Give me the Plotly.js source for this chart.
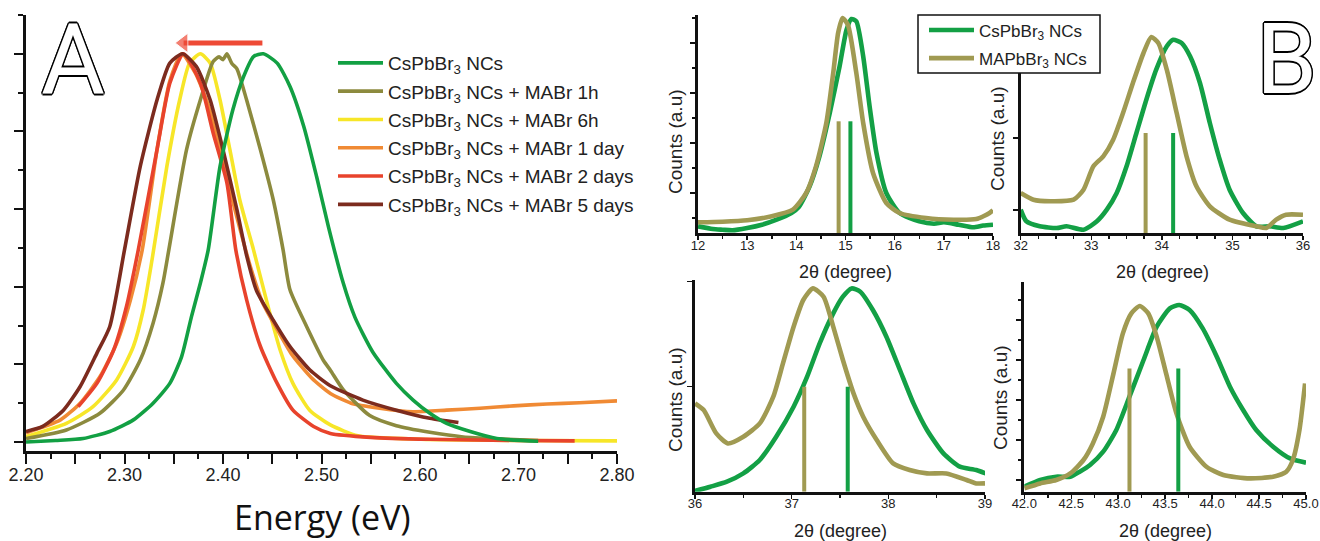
<!DOCTYPE html>
<html><head><meta charset="utf-8">
<script src="https://cdn.plot.ly/plotly-3.0.1.min.js"></script>
<style>html,body{margin:0;padding:0;background:#fff}#chart{width:1320px;height:541px}</style>
</head><body><div id="chart"></div>
<script>
// ---------- Panel A : PL spectra (normalised intensity vs energy) ----------
const aNames = ['CsPbBr<sub>3</sub> NCs','CsPbBr<sub>3</sub> NCs + MABr 1h','CsPbBr<sub>3</sub> NCs + MABr 6h',
  'CsPbBr<sub>3</sub> NCs + MABr 1 day','CsPbBr<sub>3</sub> NCs + MABr 2 days','CsPbBr<sub>3</sub> NCs + MABr 5 days'];
const aColors = ['#12a043','#8c8a3e','#f7e628','#f08a34','#e8432c','#7c2b1e'];

const greenE = [2.200,2.230,2.258,2.285,2.309,2.329,2.346,2.358,2.368,2.377,2.385,2.397,2.410,2.421,2.431,2.441,2.455,2.468,2.482,2.495,2.507,2.522,2.534,2.552,2.576,2.593,2.610,2.627,2.651,2.678,2.720];
const greenI = [0.000,0.004,0.009,0.027,0.057,0.100,0.151,0.220,0.323,0.409,0.495,0.710,0.856,0.942,0.993,1.000,0.976,0.916,0.813,0.684,0.555,0.410,0.321,0.232,0.151,0.108,0.074,0.048,0.027,0.009,0.002];

const oliveE = [2.200,2.241,2.275,2.299,2.316,2.329,2.339,2.345,2.363,2.377,2.390,2.396,2.400,2.404,2.409,2.414,2.424,2.438,2.451,2.461,2.468,2.485,2.502,2.509,2.522,2.549,2.576,2.610,2.644,2.678,2.720];
const oliveI = [0.009,0.031,0.074,0.134,0.211,0.306,0.409,0.495,0.753,0.881,0.980,0.992,0.985,1.000,0.975,0.962,0.881,0.753,0.624,0.495,0.392,0.297,0.210,0.185,0.135,0.068,0.042,0.025,0.013,0.008,0.004];

const yellowE = [2.200,2.241,2.268,2.292,2.309,2.319,2.328,2.343,2.356,2.366,2.377,2.387,2.397,2.407,2.417,2.431,2.444,2.458,2.471,2.488,2.509,2.537,2.601,2.700,2.800];
const yellowI = [0.014,0.048,0.091,0.160,0.246,0.340,0.470,0.710,0.881,0.976,1.000,0.976,0.881,0.753,0.624,0.495,0.366,0.237,0.151,0.082,0.044,0.016,0.007,0.004,0.003];

const orangeE = [2.200,2.235,2.255,2.275,2.292,2.306,2.318,2.333,2.346,2.358,2.372,2.386,2.400,2.414,2.428,2.440,2.455,2.470,2.490,2.509,2.530,2.559,2.593,2.627,2.661,2.695,2.729,2.762,2.800];
const orangeI = [0.024,0.057,0.100,0.168,0.254,0.366,0.495,0.753,0.930,1.000,0.950,0.860,0.720,0.580,0.450,0.360,0.290,0.225,0.165,0.125,0.100,0.087,0.078,0.082,0.087,0.093,0.098,0.101,0.106];

const redE = [2.253,2.272,2.289,2.302,2.314,2.333,2.346,2.360,2.377,2.390,2.404,2.413,2.424,2.438,2.455,2.471,2.492,2.509,2.550,2.610,2.700,2.757];
const redI = [0.091,0.151,0.237,0.349,0.495,0.753,0.924,1.000,0.925,0.796,0.667,0.495,0.366,0.246,0.151,0.082,0.040,0.022,0.012,0.007,0.004,0.003];

const brownE = [2.200,2.217,2.238,2.255,2.272,2.285,2.300,2.316,2.333,2.346,2.359,2.373,2.387,2.400,2.414,2.424,2.434,2.451,2.468,2.488,2.509,2.542,2.576,2.610,2.639];
const brownI = [0.027,0.040,0.082,0.143,0.229,0.297,0.495,0.710,0.881,0.976,1.000,0.967,0.881,0.753,0.600,0.480,0.390,0.314,0.246,0.186,0.145,0.108,0.082,0.061,0.050];

// red-shift arrow (energy from -> to, at normalised level)
const arrowE = [2.440, 2.360];
const arrowLevel = [1.028, 1.028];

const aMajorY = [0,0.2,0.4,0.6,0.8,1.0];
const aMinorY = [0.1,0.3,0.5,0.7,0.9,1.1];

// ---------- Panel B : XRD (counts a.u. vs 2theta) ----------
const bNames = ['CsPbBr<sub>3</sub> NCs','MAPbBr<sub>3</sub> NCs'];
const bColors = ['#13a045','#a09a52'];

// 12-18 deg
const tlCsX = [12.0,12.3,12.5,12.7,13.0,13.3,13.6,13.9,14.05,14.27,14.47,14.68,14.88,15.02,15.12,15.22,15.36,15.49,15.63,15.83,16.1,16.5,16.8,17.0,17.3,17.6,17.8,18.0];
const tlCsY = [6.7,4.0,3.3,2.7,5.0,8.3,13.3,20.0,26.0,46.7,76.7,120.0,166.7,203.0,214.0,211.7,176.7,126.7,80.0,40.0,20.0,11.7,9.3,10.7,8.3,5.7,7.5,8.3];
const tlMaX = [12.0,12.5,13.0,13.5,13.93,14.2,14.4,14.61,14.75,14.85,14.94,15.05,15.22,15.36,15.56,15.83,16.1,16.64,17.2,17.66,17.93,18.0];
const tlMaY = [10.7,11.3,12.7,16.7,23.3,40.0,66.7,110.0,160.0,200.0,215.0,208.0,160.0,110.0,60.0,30.0,20.0,15.0,13.3,14.0,20.0,22.7];
// 32-36 deg
const trCsX = [32.0,32.08,32.27,32.51,32.65,32.89,33.08,33.22,33.36,33.5,33.64,33.78,33.92,34.07,34.16,34.28,34.4,34.54,34.68,34.82,34.96,35.15,35.34,35.53,35.72,36.0];
const trCsY = [23.3,11.7,6.7,5.0,6.7,3.3,11.7,23.3,40.0,66.7,100.0,133.3,163.3,186.7,193.3,190.0,176.7,150.0,110.0,73.3,43.3,20.0,6.7,6.7,5.0,11.7];
const trMaX = [32.0,32.18,32.42,32.75,32.89,33.03,33.17,33.31,33.45,33.59,33.74,33.85,33.95,34.07,34.21,34.35,34.49,34.68,34.96,35.34,35.48,35.62,35.76,36.0];
const trMaY = [40.0,33.3,31.7,33.3,43.3,66.7,76.7,93.3,120.0,150.0,180.0,196.0,190.0,163.3,120.0,76.7,46.7,26.7,13.3,6.7,5.0,13.3,18.3,18.3];
// 36-39 deg
const blCsX = [35.97,36.16,36.33,36.5,36.67,36.84,37.02,37.16,37.29,37.43,37.53,37.62,37.71,37.84,37.98,38.12,38.26,38.4,38.57,38.74,38.91,39.05];
const blCsY = [0.0,5.0,10.0,18.3,31.7,55.0,85.0,115.0,148.3,178.3,195.0,203.3,200.0,181.7,155.0,121.7,88.3,61.7,38.3,25.0,21.7,16.7];
const blMaX = [36.0,36.09,36.22,36.34,36.5,36.67,36.81,36.91,37.02,37.12,37.22,37.33,37.43,37.53,37.64,37.74,37.88,38.05,38.22,38.4,38.6,38.81,38.91,39.0];
const blMaY = [88.3,81.7,58.3,48.3,55.0,68.3,95.0,128.3,165.0,191.7,203.3,195.0,165.0,131.7,98.3,75.0,51.7,28.3,21.7,18.3,18.3,11.7,8.3,8.3];
// 42-45 deg
const brCsX = [42.0,42.17,42.34,42.49,42.59,42.7,42.84,42.98,43.12,43.27,43.41,43.55,43.65,43.76,43.9,44.05,44.19,44.33,44.47,44.65,44.83,45.0];
const brCsY = [5.0,11.7,15.0,15.0,20.0,26.7,40.0,61.7,95.0,131.7,165.0,183.3,186.7,181.7,163.3,135.0,105.0,81.7,61.7,45.0,33.3,29.0];
const brMaX = [42.0,42.17,42.34,42.49,42.63,42.73,42.84,42.95,43.05,43.14,43.23,43.32,43.41,43.51,43.62,43.76,43.94,44.12,44.4,44.65,44.79,44.86,44.93,44.99];
const brMaY = [3.3,8.3,11.7,18.3,31.7,48.3,75.0,118.3,158.3,178.3,185.7,178.3,155.0,118.3,78.3,45.0,25.0,16.7,13.3,15.0,20.0,31.7,61.7,108.3];

// reference peak positions (sticks) : [MAPbBr3, CsPbBr3]
const stickPosTL = [14.86,15.10], stickHTL = [111.7,111.7];
const stickPosTR = [33.77,34.16], stickHTR = [100.0,100.0];
const stickPosBL = [37.13,37.58], stickHBL = [105.0,105.0];
const stickPosBR = [43.12,43.64], stickHBR = [123.3,123.3];

// ---------- build ----------
const FONT = 'Liberation Sans, Arial, sans-serif';
const traces = [];
const aSeries = [[greenE,greenI],[oliveE,oliveI],[yellowE,yellowI],[orangeE,orangeI],[redE,redI],[brownE,brownI]];
const drawOrder = [2,3,1,4,5,0];
drawOrder.forEach(i => {
  traces.push({x:aSeries[i][0], y:aSeries[i][1], type:'scatter', mode:'lines', name:aNames[i],
    line:{color:aColors[i], width:3.6, shape:'spline', smoothing:0.6},
    xaxis:'x', yaxis:'y', legend:'legend', legendgroup:'a'+i, legendrank:i+1, hoverinfo:'skip'});
});
traces.push({x:arrowE, y:arrowLevel, type:'scatter', mode:'lines+markers', showlegend:false, hoverinfo:'skip',
  line:{color:'#ee4a36', width:5}, marker:{symbol:'triangle-left', size:[0,17], color:'#ee4a36'},
  xaxis:'x', yaxis:'y'});

const bPanels = [
  {xa:'x2', ya:'y2', cs:[tlCsX,tlCsY], ma:[tlMaX,tlMaY], sp:stickPosTL, sh:stickHTL},
  {xa:'x3', ya:'y3', cs:[trCsX,trCsY], ma:[trMaX,trMaY], sp:stickPosTR, sh:stickHTR},
  {xa:'x4', ya:'y4', cs:[blCsX,blCsY], ma:[blMaX,blMaY], sp:stickPosBL, sh:stickHBL},
  {xa:'x5', ya:'y5', cs:[brCsX,brCsY], ma:[brMaX,brMaY], sp:stickPosBR, sh:stickHBR}
];
bPanels.forEach((p,k) => {
  const first = k===0;
  traces.push({x:p.cs[0], y:p.cs[1], type:'scatter', mode:'lines', name:bNames[0],
    line:{color:bColors[0], width:4.6, shape:'spline', smoothing:0.6}, xaxis:p.xa, yaxis:p.ya,
    legend:'legend2', legendgroup:'b0', legendrank:1, showlegend:first, hoverinfo:'skip'});
  traces.push({x:p.ma[0], y:p.ma[1], type:'scatter', mode:'lines', name:bNames[1],
    line:{color:bColors[1], width:4.6, shape:'spline', smoothing:0.6}, xaxis:p.xa, yaxis:p.ya,
    legend:'legend2', legendgroup:'b1', legendrank:2, showlegend:first, hoverinfo:'skip'});
  [1,0].forEach(j => {
    traces.push({x:[p.sp[j],p.sp[j]], y:[0,p.sh[j]], type:'scatter', mode:'lines',
      line:{color:bColors[1-j], width:4}, xaxis:p.xa, yaxis:p.ya, showlegend:false, hoverinfo:'skip'});
  });
});

const W = 1320, H = 541;
const px = v => v/W, py = v => 1 - v/H;
function bx(d0,d1,range,anchor,dtick,dtickMinor,fmt){
  return {domain:[px(d0),px(d1)], range:range, anchor:anchor, showline:true, linecolor:'#111', linewidth:3,
    ticks:'outside', ticklen:4, tickwidth:1.5, tickcolor:'#111', showgrid:false, zeroline:false,
    tickmode:'linear', tick0:range[0], dtick:dtick, tickformat:fmt, ticklabelstandoff:-6,
    tickfont:{family:FONT, size:13, color:'#222'},
    minor:{ticks:'outside', ticklen:3, tickwidth:1.5, tickcolor:'#111', dtick:dtickMinor, showgrid:false}};
}
function by(d0,d1,range,anchor,major,minor){
  return {domain:[py(d1),py(d0)], range:range, anchor:anchor, showline:true, linecolor:'#111', linewidth:3,
    ticks:'outside', ticklen:5, tickwidth:1.5, tickcolor:'#111', showgrid:false, zeroline:false,
    showticklabels:false, tickvals:major,
    minor:{ticks:'outside', ticklen:3, tickwidth:1.5, tickcolor:'#111', tickvals:minor, showgrid:false}};
}
const ann = (x,y,text,size,extra) => Object.assign({x:px(x), y:py(y), xref:'paper', yref:'paper', text:text,
  showarrow:false, xanchor:'center', yanchor:'middle', font:{family:FONT, size:size, color:'#222'}}, extra||{});

const outline = 'black 1.6px 0 0, black -1.6px 0 0, black 0 1.6px 0, black 0 -1.6px 0, black 1.1px 1.1px 0, black -1.1px -1.1px 0, black 1.1px -1.1px 0, black -1.1px 1.1px 0';
const letterFont = {family:'Roboto, sans-serif', size:98, color:'#ffffff', shadow:outline};
const layout = {
  width:W, height:H, margin:{l:0,r:0,t:0,b:0}, paper_bgcolor:'#ffffff', plot_bgcolor:'rgba(0,0,0,0)',
  font:{family:FONT, color:'#222'}, showlegend:true,
  xaxis:{domain:[px(26),px(617)], range:[2.2,2.8], anchor:'y', showline:true, linecolor:'#111', linewidth:3,
    ticks:'outside', ticklen:10, tickwidth:2, tickcolor:'#111', showgrid:false, zeroline:false,
    tickmode:'linear', tick0:2.2, dtick:0.05, ticklabelstep:2, tickformat:'.2f', ticklabelstandoff:-5,
    tickfont:{family:FONT, size:18, color:'#222'},
    minor:{ticks:'outside', ticklen:5, tickwidth:2, tickcolor:'#111', dtick:0.025, showgrid:false}},
  yaxis:{domain:[py(451),py(15)], range:[-0.0232,1.1], anchor:'x', showline:true, linecolor:'#111', linewidth:3,
    ticks:'outside', ticklen:9, tickwidth:2, tickcolor:'#111', showgrid:false, zeroline:false, showticklabels:false,
    tickvals:aMajorY, minor:{ticks:'outside', ticklen:5, tickwidth:2, tickcolor:'#111', tickvals:aMinorY, showgrid:false}},
  xaxis2:bx(698,993,[12,18],'y2',1,0.5,'d'),
  yaxis2:by(15,233,[0,218],'x2',[40,90,140,190],[15,65,115,165,215]),
  xaxis3:bx(1020.7,1303,[32,36],'y3',1,0.25,'d'),
  yaxis3:by(15,233,[0,218],'x3',[23,95],[]),
  xaxis4:bx(695,985,[36,39],'y4',1,0.5,'d'),
  yaxis4:by(280,491.7,[0,211.7],'x4',[105,210],[]),
  xaxis5:bx(1024.3,1306,[42,45],'y5',0.5,0.25,'.1f'),
  yaxis5:by(281.7,491.7,[0,210],'x5',[11.7,51.7,91.7,131.7,171.7],[31.7,71.7,111.7,151.7,191.7]),
  legend:{x:px(333), y:py(44), xanchor:'left', yanchor:'top', bgcolor:'rgba(0,0,0,0)', borderwidth:0, itemwidth:45,
    font:{family:FONT, size:19, color:'#222'}, traceorder:'grouped', tracegroupgap:0.6},
  legend2:{x:px(924), y:py(12.5), xanchor:'left', yanchor:'top', bgcolor:'rgba(0,0,0,0)', borderwidth:0, itemwidth:45,
    font:{family:FONT, size:17, color:'#222'}, traceorder:'grouped', tracegroupgap:3},
  shapes:[
    {type:'rect', xref:'paper', yref:'paper', x0:px(918), x1:px(1100), y0:py(73), y1:py(15), layer:'above',
     fillcolor:'#ffffff', line:{color:'#111', width:1.5}}
  ],
  annotations:[
    ann(73,1,'A',98,{yanchor:'top', y:1, font:letterFont}),
    ann(1286.5,1,'B',98,{yanchor:'top', y:1, font:letterFont}),
    ann(321.5,517,'Energy (eV)',34,{font:{family:'Open Sans, sans-serif', size:34, color:'#111'}}),
    ann(845.5,272,'2θ (degree)',18),
    ann(1162,272,'2θ (degree)',18),
    ann(840,531,'2θ (degree)',18),
    ann(1165,531,'2θ (degree)',18),
    ann(675,142,'Counts (a.u)',19,{textangle:-90}),
    ann(997,138,'Counts (a.u)',19,{textangle:-90}),
    ann(675,400,'Counts (a.u)',19,{textangle:-90}),
    ann(1000,398,'Counts (a.u)',19,{textangle:-90})
  ]
};
Plotly.newPlot('chart', traces, layout, {displayModeBar:false, staticPlot:true});
</script></body></html>
